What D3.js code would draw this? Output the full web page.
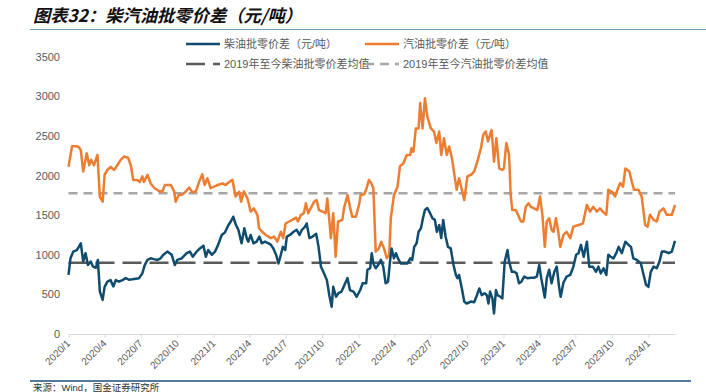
<!DOCTYPE html>
<html><head><meta charset="utf-8">
<script src="https://cdn.jsdelivr.net/npm/d3@7"></script>
<style>
html,body{margin:0;padding:0;background:#fff;}
svg{display:block;}
</style></head>
<body>
<svg id="chart" width="706" height="392"></svg>
<script>
const titleText = "图表32：柴汽油批零价差（元/吨）";
const sourceText = "来源：Wind，国金证券研究所";
const seriesNames = ["柴油批零价差（元/吨）", "汽油批零价差（元/吨）", "2019年至今柴油批零价差均值", "2019年至今汽油批零价差均值"];
const yTicks = [0, 500, 1000, 1500, 2000, 2500, 3000, 3500];
const xTickDates = ["2020-01-01","2020-04-01","2020-07-01","2020-10-01","2021-01-01","2021-04-01","2021-07-01","2021-10-01","2022-01-01","2022-04-01","2022-07-01","2022-10-01","2023-01-01","2023-04-01","2023-07-01","2023-10-01","2024-01-01"];
const dieselAvg = 900;
const gasolineAvg = 1775;

const dieselSpread = [
["2020-01-01",745],["2020-01-06",955],["2020-01-13",1040],["2020-01-22",1060],["2020-01-27",1100],["2020-02-01",1145],["2020-02-07",915],["2020-02-13",1020],["2020-02-19",870],["2020-02-26",915],
["2020-03-03",850],["2020-03-10",835],["2020-03-15",935],["2020-03-20",535],["2020-03-27",430],["2020-04-01",595],["2020-04-08",660],["2020-04-16",680],["2020-04-23",600],["2020-04-29",680],
["2020-05-07",660],["2020-05-16",680],["2020-05-24",705],["2020-06-01",685],["2020-06-10",690],["2020-06-27",705],["2020-07-05",765],["2020-07-11",870],["2020-07-18",935],["2020-07-26",955],
["2020-08-03",945],["2020-08-12",935],["2020-08-20",955],["2020-08-27",1000],["2020-09-06",1040],["2020-09-17",1000],["2020-09-25",870],["2020-10-01",935],["2020-10-12",955],["2020-10-25",1020],
["2020-11-02",1040],["2020-11-09",975],["2020-11-19",1040],["2020-11-27",1080],["2020-12-06",1115],["2020-12-12",975],["2020-12-18",1060],["2020-12-27",1000],["2021-01-04",1040],["2021-01-12",1125],
["2021-01-21",1250],["2021-01-29",1280],["2021-02-07",1375],["2021-02-13",1420],["2021-02-19",1480],["2021-02-26",1375],["2021-03-04",1315],["2021-03-12",1145],["2021-03-19",1335],["2021-03-25",1210],
["2021-03-29",1165],["2021-04-04",1250],["2021-04-11",1145],["2021-04-19",1165],["2021-04-26",1230],["2021-05-02",1145],["2021-05-10",1165],["2021-05-19",1145],["2021-05-25",1125],["2021-05-31",1080],
["2021-06-07",1000],["2021-06-13",890],["2021-06-19",1000],["2021-06-24",1100],["2021-06-30",1060],["2021-07-04",1230],["2021-07-12",1250],["2021-07-21",1290],["2021-07-29",1315],["2021-08-05",1250],
["2021-08-11",1315],["2021-08-19",1355],["2021-08-23",1395],["2021-08-30",1210],["2021-09-07",1230],["2021-09-16",1265],["2021-09-22",1100],["2021-09-28",850],["2021-10-04",785],["2021-10-13",680],
["2021-10-19",490],["2021-10-25",345],["2021-10-29",595],["2021-11-05",470],["2021-11-11",515],["2021-11-19",535],["2021-11-28",640],["2021-12-04",705],["2021-12-10",555],["2021-12-19",535],
["2021-12-27",470],["2022-01-05",555],["2022-01-11",640],["2022-01-20",640],["2022-01-23",810],["2022-01-30",830],["2022-02-03",1020],["2022-02-07",890],["2022-02-13",830],["2022-02-19",870],
["2022-02-26",935],["2022-03-04",850],["2022-03-10",640],["2022-03-16",660],["2022-03-21",915],["2022-03-25",1080],["2022-03-31",955],["2022-04-05",1020],["2022-04-10",955],["2022-04-17",890],
["2022-05-04",890],["2022-05-11",955],["2022-05-16",935],["2022-05-21",1100],["2022-05-27",1145],["2022-06-01",1290],["2022-06-07",1335],["2022-06-12",1460],["2022-06-17",1565],["2022-06-23",1590],
["2022-06-30",1525],["2022-07-06",1460],["2022-07-12",1440],["2022-07-17",1290],["2022-07-23",1375],["2022-07-28",1210],["2022-08-02",1440],["2022-08-08",1230],["2022-08-14",1100],["2022-08-21",1080],
["2022-08-28",870],["2022-09-03",745],["2022-09-07",705],["2022-09-11",745],["2022-09-18",575],["2022-09-24",410],["2022-09-30",385],["2022-10-11",410],["2022-10-19",400],["2022-10-26",490],
["2022-11-01",575],["2022-11-07",490],["2022-11-14",515],["2022-11-20",490],["2022-11-24",385],["2022-11-28",535],["2022-12-04",450],["2022-12-08",260],["2022-12-13",555],["2022-12-17",490],
["2022-12-24",470],["2022-12-29",450],["2023-01-04",915],["2023-01-11",1060],["2023-01-15",915],["2023-01-22",785],["2023-01-28",785],["2023-02-03",765],["2023-02-09",640],["2023-02-15",660],
["2023-02-22",725],["2023-03-02",705],["2023-03-11",710],["2023-03-19",710],["2023-03-26",725],["2023-04-01",870],["2023-04-06",705],["2023-04-15",460],["2023-04-20",705],["2023-04-26",810],
["2023-05-02",640],["2023-05-09",785],["2023-05-15",850],["2023-05-21",595],["2023-05-25",470],["2023-06-01",650],["2023-06-09",725],["2023-06-18",745],["2023-06-26",850],["2023-07-03",1000],
["2023-07-09",1020],["2023-07-15",1125],["2023-07-22",975],["2023-07-30",1165],["2023-08-05",850],["2023-08-14",850],["2023-08-22",785],["2023-08-28",850],["2023-09-03",765],["2023-09-10",830],
["2023-09-17",745],["2023-09-22",1000],["2023-09-28",975],["2023-10-05",955],["2023-10-12",1020],["2023-10-18",1100],["2023-10-26",1020],["2023-11-04",1165],["2023-11-12",1125],["2023-11-18",1100],
["2023-11-24",955],["2023-12-03",935],["2023-12-13",890],["2023-12-20",745],["2023-12-26",620],["2024-01-01",595],["2024-01-07",785],["2024-01-14",850],["2024-01-22",830],["2024-01-29",915],
["2024-02-04",1040],["2024-02-12",1040],["2024-02-21",1020],["2024-02-29",1040],["2024-03-08",1175]
];

const gasolineSpread = [
["2020-01-01",2110],["2020-01-10",2370],["2020-01-20",2370],["2020-01-27",2360],["2020-02-01",2320],["2020-02-07",2050],["2020-02-16",2280],["2020-02-22",2130],["2020-02-27",2200],["2020-03-05",2130],
["2020-03-14",2260],["2020-03-20",1730],["2020-03-27",1670],["2020-04-01",2010],["2020-04-08",2070],["2020-04-16",2110],["2020-04-25",2070],["2020-05-03",2130],["2020-05-12",2200],["2020-05-20",2240],
["2020-05-30",2225],["2020-06-06",2130],["2020-06-12",1945],["2020-06-21",1945],["2020-06-29",1920],["2020-07-05",1990],["2020-07-09",1920],["2020-07-18",2010],["2020-07-26",1900],["2020-08-05",1840],
["2020-08-16",1805],["2020-08-24",1795],["2020-08-31",1880],["2020-09-15",1880],["2020-09-23",1800],["2020-09-27",1670],["2020-10-05",1755],["2020-10-14",1760],["2020-10-22",1795],["2020-10-31",1850],
["2020-11-08",1790],["2020-11-17",1800],["2020-11-25",1920],["2020-12-03",2015],["2020-12-09",1880],["2020-12-16",1965],["2020-12-24",1840],["2021-01-02",1860],["2021-01-10",1880],["2021-01-23",1900],
["2021-01-31",1880],["2021-02-08",1915],["2021-02-17",1945],["2021-02-25",1735],["2021-03-06",1795],["2021-03-11",1670],["2021-03-18",1800],["2021-03-27",1710],["2021-04-04",1545],["2021-04-12",1585],
["2021-04-21",1500],["2021-04-25",1335],["2021-05-03",1290],["2021-05-12",1250],["2021-05-25",1210],["2021-06-02",1230],["2021-06-10",1165],["2021-06-19",1290],["2021-06-25",1210],["2021-07-01",1395],
["2021-07-10",1420],["2021-07-18",1440],["2021-07-27",1470],["2021-08-01",1420],["2021-08-08",1500],["2021-08-16",1525],["2021-08-21",1650],["2021-08-27",1525],["2021-09-02",1585],["2021-09-11",1670],
["2021-09-17",1690],["2021-09-23",1565],["2021-10-02",1545],["2021-10-10",1525],["2021-10-14",1710],["2021-10-18",1500],["2021-10-23",1210],["2021-10-29",1525],["2021-11-04",975],["2021-11-10",1420],
["2021-11-21",1440],["2021-11-25",1585],["2021-12-04",1755],["2021-12-10",1605],["2021-12-16",1480],["2021-12-25",1480],["2022-01-02",1630],["2022-01-06",1755],["2022-01-15",1765],["2022-01-21",1840],
["2022-01-27",1945],["2022-02-02",1900],["2022-02-07",1840],["2022-02-13",1040],["2022-02-21",1080],["2022-02-27",1165],["2022-03-06",1080],["2022-03-13",955],["2022-03-19",1000],["2022-03-23",1460],
["2022-03-31",1755],["2022-04-09",1860],["2022-04-15",2115],["2022-04-24",2155],["2022-05-02",2260],["2022-05-11",2260],["2022-05-14",2345],["2022-05-19",2300],["2022-05-25",2595],["2022-06-01",2595],
["2022-06-05",2915],["2022-06-11",2595],["2022-06-17",2975],["2022-06-23",2745],["2022-07-02",2595],["2022-07-10",2555],["2022-07-16",2410],["2022-07-23",2555],["2022-07-28",2260],["2022-08-04",2470],
["2022-08-11",2260],["2022-08-17",2365],["2022-08-24",2220],["2022-08-29",2050],["2022-09-05",1820],["2022-09-11",1965],["2022-09-18",1820],["2022-09-24",1690],["2022-10-02",1990],["2022-10-11",2010],
["2022-10-19",2050],["2022-10-27",2175],["2022-11-05",2345],["2022-11-11",2515],["2022-11-17",2555],["2022-11-23",2430],["2022-11-28",2515],["2022-12-02",2575],["2022-12-08",2175],["2022-12-14",2470],
["2022-12-21",2090],["2022-12-29",2070],["2023-01-02",2090],["2023-01-08",2410],["2023-01-15",2260],["2023-01-19",1755],["2023-01-23",1565],["2023-02-01",1565],["2023-02-07",1500],["2023-02-14",1420],
["2023-02-20",1420],["2023-02-26",1605],["2023-03-05",1650],["2023-03-11",1605],["2023-03-19",1585],["2023-03-27",1565],["2023-04-03",1735],["2023-04-09",1500],["2023-04-15",1100],["2023-04-20",1420],
["2023-04-26",1460],["2023-05-02",1315],["2023-05-07",1290],["2023-05-13",1460],["2023-05-19",1290],["2023-05-24",1100],["2023-06-01",1250],["2023-06-09",1290],["2023-06-18",1210],["2023-06-26",1355],
["2023-07-09",1375],["2023-07-20",1395],["2023-07-30",1630],["2023-08-07",1545],["2023-08-15",1605],["2023-08-24",1545],["2023-09-01",1585],["2023-09-08",1545],["2023-09-17",1505],["2023-09-22",1820],
["2023-10-01",1795],["2023-10-09",1735],["2023-10-15",1820],["2023-10-22",1905],["2023-10-29",1860],["2023-11-04",2090],["2023-11-14",2050],["2023-11-20",1925],["2023-11-26",1820],["2023-12-07",1820],
["2023-12-15",1735],["2023-12-24",1375],["2023-12-30",1355],["2024-01-05",1505],["2024-01-14",1440],["2024-01-22",1420],["2024-01-29",1545],["2024-02-08",1585],["2024-02-16",1505],["2024-02-29",1505],
["2024-03-08",1630]
];

const colors = {diesel:"#0f4c6e", gasoline:"#ed7d31", dieselAvg:"#5a5a5a", gasAvg:"#a6a6a6", text:"#595959"};
const fontStack = "'Liberation Sans','Noto Sans CJK SC',Arial,sans-serif";

const parse = d3.timeParse("%Y-%m-%d");
const svg = d3.select("#chart");

// Title & rules
svg.append("text").attr("x",33).attr("y",22)
  .attr("font-family","'Noto Sans CJK SC',sans-serif").attr("font-size",17.3)
  .attr("font-weight",700).attr("font-style","italic").attr("fill","#111")
  .text(titleText);
svg.append("line").attr("x1",30).attr("x2",706).attr("y1",29.5).attr("y2",29.5)
  .attr("stroke","#6f9bbb").attr("stroke-width",1);
svg.append("line").attr("x1",30).attr("x2",691).attr("y1",381).attr("y2",381)
  .attr("stroke","#1f4e79").attr("stroke-width",1.5);
svg.append("text").attr("x",33).attr("y",390.5)
  .attr("font-family",fontStack).attr("font-size",9.5).attr("fill","#333")
  .text(sourceText);

// Scales
const x = d3.scaleTime().domain([parse("2020-01-01"), parse("2024-03-08")]).range([68.5, 675]);
const y = d3.scaleLinear().domain([0, 3500]).range([334, 56.7]);

// Y axis labels (no line)
const yAxis = d3.axisLeft(y).tickValues(yTicks).tickSize(0).tickPadding(0).tickFormat(d3.format("d"));
const gy = svg.append("g").attr("transform","translate(60,0)").call(yAxis);
gy.select(".domain").remove();
gy.selectAll("text").attr("font-family",fontStack).attr("font-size",11).attr("fill",colors.text);

// X axis
const xAxis = d3.axisBottom(x).tickValues(xTickDates.map(parse)).tickSize(4).tickSizeOuter(0)
  .tickFormat(d3.timeFormat("%Y/%-m"));
const gx = svg.append("g").attr("transform","translate(0,334)").call(xAxis);
gx.select(".domain").attr("stroke","#d9d9d9").attr("stroke-width",1);
gx.selectAll(".tick line").attr("stroke","#d9d9d9");
gx.selectAll("text")
  .attr("font-family",fontStack).attr("font-size",10).attr("fill",colors.text)
  .attr("text-anchor","end").attr("dy",null).attr("y",0)
  .attr("transform","translate(2,10) rotate(-45)");

// Average lines
const xr = x.range();
svg.append("line").attr("x1",xr[0]).attr("x2",xr[1]).attr("y1",y(dieselAvg)).attr("y2",y(dieselAvg))
  .attr("stroke",colors.dieselAvg).attr("stroke-width",2.5).attr("stroke-dasharray","19,8");
svg.append("line").attr("x1",xr[0]).attr("x2",xr[1]).attr("y1",y(gasolineAvg)).attr("y2",y(gasolineAvg))
  .attr("stroke",colors.gasAvg).attr("stroke-width",2.5).attr("stroke-dasharray","9,6");

// Series lines
const line = d3.line().x(d => x(parse(d[0]))).y(d => y(d[1]));
svg.append("path").datum(gasolineSpread).attr("d",line).attr("fill","none")
  .attr("stroke",colors.gasoline).attr("stroke-width",2.5).attr("stroke-linejoin","round");
svg.append("path").datum(dieselSpread).attr("d",line).attr("fill","none")
  .attr("stroke",colors.diesel).attr("stroke-width",2.5).attr("stroke-linejoin","round");

// Legend
const legend = [
  {x:186, y:44, color:colors.diesel, dash:null, label:seriesNames[0]},
  {x:365, y:44, color:colors.gasoline, dash:null, label:seriesNames[1]},
  {x:186, y:64, color:colors.dieselAvg, dash:"19,8", label:seriesNames[2]},
  {x:365, y:64, color:colors.gasAvg, dash:"9,6", label:seriesNames[3]}
];
const lg = svg.append("g").selectAll("g").data(legend).join("g");
lg.append("line").attr("x1",d=>d.x).attr("x2",d=>d.x+34).attr("y1",d=>d.y).attr("y2",d=>d.y)
  .attr("stroke",d=>d.color).attr("stroke-width",2.5).attr("stroke-dasharray",d=>d.dash);
lg.append("text").attr("x",d=>d.x+38).attr("y",d=>d.y+4)
  .attr("font-family",fontStack).attr("font-size",11).attr("fill",colors.text)
  .text(d=>d.label);
</script>
</body></html>
